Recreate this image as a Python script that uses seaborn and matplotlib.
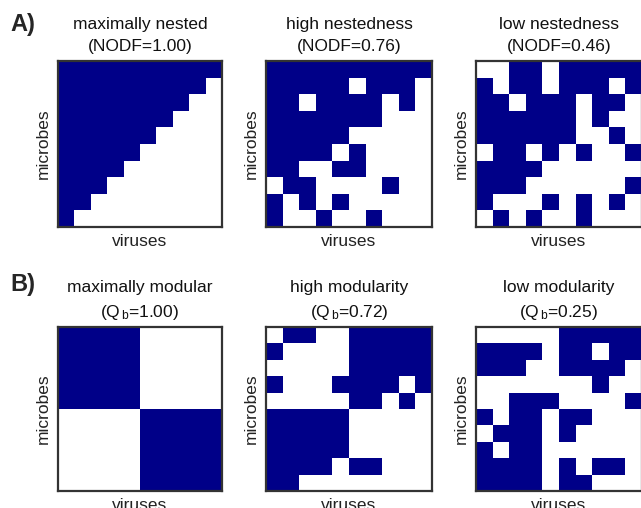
import numpy as np
import pandas as pd
import matplotlib
matplotlib.use("Agg")
import matplotlib.pyplot as plt
import seaborn as sns
from matplotlib.colors import ListedColormap

sns.set_style("white")
plt.rcParams['font.family'] = ['Liberation Sans', 'DejaVu Sans']
plt.rcParams['mathtext.fontset'] = 'custom'
plt.rcParams['mathtext.rm'] = 'Liberation Sans'
plt.rcParams['mathtext.it'] = 'Liberation Sans'

# ---- data: interaction matrices (rows = microbes, cols = viruses) ----
max_nested = [
    "1111111111",
    "1111111110",
    "1111111100",
    "1111111000",
    "1111110000",
    "1111100000",
    "1111000000",
    "1110000000",
    "1100000000",
    "1000000000",
]
high_nested = [
    "1111111111",
    "1111101110",
    "1101111010",
    "1111111000",
    "1111100000",
    "1111010000",
    "1100110000",
    "0110000100",
    "1010100000",
    "1001001000",
]
low_nested = [
    "0011011111",
    "1011011101",
    "1101110110",
    "1111110100",
    "1111110010",
    "0110101001",
    "1111000000",
    "1110000001",
    "1000101010",
    "0101001000",
]
max_modular = [
    "1111100000",
    "1111100000",
    "1111100000",
    "1111100000",
    "1111100000",
    "0000011111",
    "0000011111",
    "0000011111",
    "0000011111",
    "0000011111",
]
high_modular = [
    "0110011111",
    "1000011111",
    "0000011111",
    "1000111101",
    "0000011010",
    "1111100000",
    "1111100000",
    "1111100000",
    "1111011000",
    "1100000000",
]
low_modular = [
    "0000011111",
    "1111011011",
    "1110011110",
    "0000000100",
    "0011100001",
    "1011011000",
    "0111010000",
    "1011000000",
    "1111010110",
    "1111011000",
]

titles_A = ["maximally nested\n(NODF=1.00)",
            "high nestedness\n(NODF=0.76)",
            "low nestedness\n(NODF=0.46)"]
titles_B = ["maximally modular\n(Q$_{\\,\\mathrm{b}}$=1.00)",
            "high modularity\n(Q$_{\\,\\mathrm{b}}$=0.72)",
            "low modularity\n(Q$_{\\,\\mathrm{b}}$=0.25)"]
matrices = [[max_nested, high_nested, low_nested],
            [max_modular, high_modular, low_modular]]
titles = [titles_A, titles_B]

W, H = 641, 508
fig = plt.figure(figsize=(W / 100, H / 100), dpi=100)
cmap = ListedColormap(["white", "#000088"])

lefts = [58, 266, 476]
widths = [164, 166, 166]
tops = [61, 327]
heights = [166, 164]

for r in range(2):
    for c in range(3):
        ax = fig.add_axes([lefts[c] / W, (H - tops[r] - heights[r]) / H,
                           widths[c] / W, heights[r] / H])
        mat = np.array([[int(ch) for ch in row] for row in matrices[r][c]])
        sns.heatmap(pd.DataFrame(mat), ax=ax, cmap=cmap, vmin=0, vmax=1,
                    cbar=False, xticklabels=False, yticklabels=False,
                    linewidths=0)
        for s in ax.spines.values():
            s.set_visible(True)
            s.set_color("#333333")
            s.set_linewidth(1.6)
        ax.set_xlabel("viruses", fontsize=12.5, color="#222222", labelpad=5)
        ax.set_ylabel("microbes", fontsize=12.5, color="#222222", labelpad=5)
        ax.set_title(titles[r][c], fontsize=12.5, color="#111111",
                     pad=7, linespacing=1.6)

fig.text(10 / W, 1 - 24 / H, "A)", fontsize=17, fontweight="bold",
         va="center", ha="left")
fig.text(10 / W, 1 - 284 / H, "B)", fontsize=17, fontweight="bold",
         va="center", ha="left")

fig.savefig("out.png", dpi=100)
